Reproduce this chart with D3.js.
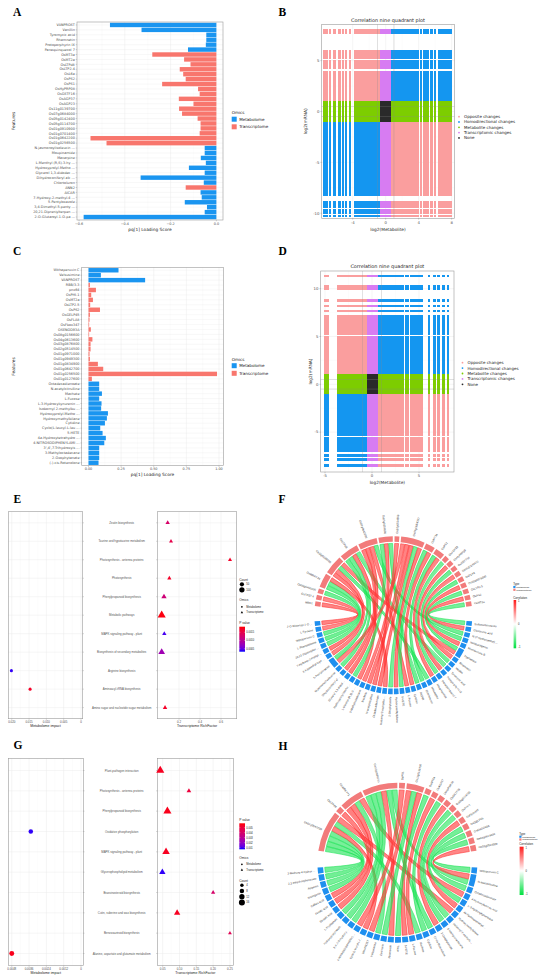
<!DOCTYPE html>
<html><head><meta charset="utf-8">
<script src="https://cdn.jsdelivr.net/npm/d3@7/dist/d3.min.js"></script>
<style>html,body{margin:0;padding:0;background:#fff;}svg{display:block;}</style>
</head><body>
<script>
// ================= DATA =================
// Panel A: OPLS loading scores
const aFeatures=["VANPROST","Vanillin","Tyromycic acid","Rhamnetin","Protoporphyrin IX","Panaquinquecol 7","OsMT3a","OsMT2a","OsLTPd8","OsLTP2.4","OsL6a","OsPS2","OsPS1","OsHyPRP08","OsGSTF16","OsAGP37","OsAGP23","Os11g0139700","Os07g0684000","Os05g0142400","Os05g0114700","Os01g0910900","Os01g0701400","Os01g0642200","Os01g0256500","N-jasmonoylisoleucin ...","Moupinamide","Macarpine","L-Menthyl (R,S)-3-hy ...","Hydroxyprolyl-Metho ...","Glycerol 1,3-didodec ...","Dihydroconiferyl alc ...","Chlortoluron","ANN2","AICAR","7-Hydroxy-2-methyl-4 ...","5-Pentyloxazole","3,4-Dimethyl-5-penty ...","20,21-Dipreniylterpen ...","2-O-Glutaroyl-1-O-pa ..."];
const aOmics=["M","M","M","M","M","M","T","T","T","T","T","T","T","T","T","T","T","T","T","T","T","T","T","T","T","M","M","M","M","M","M","M","M","T","M","M","M","M","M","M"];
const aScores=[-0.465,-0.327,-0.044,-0.044,-0.046,-0.124,-0.28,-0.141,-0.113,-0.16,-0.145,-0.134,-0.237,-0.08,-0.073,-0.164,-0.10,-0.163,-0.15,-0.082,-0.069,-0.069,-0.073,-0.55,-0.48,-0.051,-0.051,-0.068,-0.046,-0.12,-0.051,-0.331,-0.055,-0.134,-0.069,-0.064,-0.138,-0.041,-0.051,-0.58];
const aTicks=[-0.6,-0.4,-0.2,0.0];

// Panel C
const cFeatures=["Withaperuvin C","Velsusimine","VANPROST","RBB/3-3","pnx64","OsPHI-1","OsMT2a","OsLTP2.5","OsPS2","OsGELP45","OsFLA8","OsFbox347","OSENOD93A","Os08g0156600","Os04g0613600","Os03g0876800","Os02g0514500","Os01g0971000","Os01g0949300","Os01g0834900","Os01g0642700","Os01g0256500","Os01g0127600","Octadecadienoate","N-acetylcitrulline","Machete","L-Fucose","L-3-Hydroxykynurenin ...","Isobornyl 2-methylbu ...","Hydroxyprolyl-Metho ...","Hydroxymethylbilane","Cytidine","Cyclo(L-leucyl-L-leu ...","5-HETE","4a-Hydroxytetrahydro ...","4-NITROSODIPHENYLAMI ...","3',4',7-Trihydroxyis ...","3-Methyloctadecane","2-Oxophytanate","(-)-cis-Rotenolone"];
const cOmics=["M","M","M","T","T","T","T","T","T","T","T","T","T","T","T","T","T","T","T","T","T","T","T","M","M","M","M","M","M","M","M","M","M","M","M","M","M","M","M","M"];
const cScores=[0.23,0.095,0.434,0.011,0.057,0.021,0.034,0.013,0.088,0.011,0.008,0.005,0.018,0.005,0.03,0.016,0.016,0.008,0.011,0.072,0.113,0.985,0.026,0.082,0.082,0.103,0.082,0.1,0.097,0.149,0.141,0.126,0.09,0.108,0.133,0.121,0.082,0.082,0.082,0.077];
const cTicks=[0,0.25,0.5,0.75,1.0];

// Panel B: nine-quadrant (log2 fold changes)
const bMetFC=[-7.4,-7.1,-6.75,-6.2,-5.6,-5.2,-4.8,-4.35,-3.75,-3.5,-3.3,-3.1,-2.9,-2.7,-2.5,-2.3,-2.1,-1.9,-1.7,-1.5,-1.3,-1.1,-0.9,-0.7,-0.5,-0.3,-0.1,0.1,0.3,0.5,0.7,0.9,1.1,1.3,1.5,1.7,1.9,2.1,2.3,2.5,2.7,2.9,3.1,3.3,3.5,3.7,3.9,4.3,4.7,5.05,5.55,5.95,6.45,6.75,7.1,7.35,7.65,7.9];
const bGeneFC=[8.0,7.75,5.9,5.7,5.5,5.3,4.9,4.7,4.5,4.3,3.9,3.7,3.5,3.3,3.1,2.9,2.7,2.5,2.3,2.1,1.9,1.7,1.5,1.3,1.1,0.9,0.7,0.5,0.3,0.1,-0.1,-0.3,-0.5,-0.7,-0.9,-1.1,-1.3,-1.5,-1.7,-1.9,-2.1,-2.3,-2.5,-2.7,-2.9,-3.1,-3.3,-3.5,-3.7,-3.9,-4.1,-4.3,-4.5,-4.7,-4.9,-5.1,-5.3,-5.5,-5.7,-5.9,-6.1,-6.3,-6.5,-6.7,-6.9,-7.1,-7.3,-7.55,-7.75,-8.0,-8.2,-8.9,-9.1,-9.35,-9.75,-10.0,-10.3];
// Panel D
const dMetFC=[-5.0,-4.75,-3.58,-3.34,-3.05,-2.85,-2.65,-2.45,-2.25,-2.05,-1.85,-1.65,-1.45,-1.25,-1.05,-0.85,-0.65,-0.45,-0.25,-0.05,0.15,0.35,0.5,0.65,0.85,1.05,1.25,1.45,1.65,1.85,2.05,2.25,2.45,2.65,2.85,3.05,3.3,3.6,3.85,4.2,4.5,4.75,5.0,5.28,6.05,6.65,7.05,7.6,8.1];
const dGeneFC=[11.35,10.3,10.0,8.75,8.2,7.65,7.1,6.9,6.7,6.5,6.3,6.1,5.9,5.7,5.5,5.3,4.9,4.7,4.5,4.3,4.1,3.9,3.7,3.5,3.3,3.1,2.9,2.7,2.5,2.3,2.1,1.9,1.7,1.5,1.3,1.1,0.9,0.7,0.5,0.3,0.1,-0.1,-0.3,-0.5,-0.7,-0.9,-1.1,-1.3,-1.5,-1.7,-1.9,-2.1,-2.3,-2.5,-2.7,-2.9,-3.1,-3.3,-3.5,-3.7,-3.9,-4.1,-4.3,-4.5,-4.7,-4.9,-5.1,-5.3,-5.6,-5.85,-6.1,-6.4,-6.7,-7.0,-7.45,-7.85,-8.5];
const quadClasses=["Opposite changes","Homodirectional changes","Metabolite changes","Transcriptomic changes","None"];
const quadColors=["#FA9E9E","#1496F0","#7DCD00","#D77CF2","#2A2A2A"];

// Panel E: KEGG joint enrichment
const ePathways=["Zeatin biosynthesis","Taurine and hypotaurine metabolism","Photosynthesis - antenna proteins","Photosynthesis","Phenylpropanoid biosynthesis","Metabolic pathways","MAPK signaling pathway - plant","Biosynthesis of secondary metabolites","Arginine biosynthesis","Aminoacyl-tRNA biosynthesis","Amino sugar and nucleotide sugar metabolism"];
const eMetPath=["Arginine biosynthesis","Aminoacyl-tRNA biosynthesis"];
const eMetImpact=[0.0201,0.0147];
const eMetP=[0.00036,0.0017];
const eMetCount=[8,8];
const eTrPath=["Zeatin biosynthesis","Taurine and hypotaurine metabolism","Photosynthesis - antenna proteins","Photosynthesis","Phenylpropanoid biosynthesis","Metabolic pathways","MAPK signaling pathway - plant","Biosynthesis of secondary metabolites","Amino sugar and nucleotide sugar metabolism"];
const eTrRich=[0.092,0.124,0.686,0.108,0.057,0.035,0.060,0.035,0.067];
const eTrP=[0.0013,0.0015,0.0017,0.0017,0.0012,0.0018,0.0004,0.0008,0.0017];
const eTrCount=[15,5,6,10,40,140,15,85,15];
const eMetTicks=[0.02,0.015,0.01,0.005,0];
const eMetTickLabels=["0.020","0.015","0.010","0.005","0"];
const eTrTicks=[0.2,0.4,0.6];
const eCountLegend=[50,100];
const ePLegend=[0.0015,0.0010,0.0005];

// Panel G
const gPathways=["Plant-pathogen interaction","Photosynthesis - antenna proteins","Phenylpropanoid biosynthesis","Oxidative phosphorylation","MAPK signaling pathway - plant","Glycerophospholipid metabolism","Brassinosteroid biosynthesis","Cutin, suberine and wax biosynthesis","Benzoxazinoid biosynthesis","Alanine, aspartate and glutamate metabolism"];
const gMetPath=["Oxidative phosphorylation","Alanine, aspartate and glutamate metabolism"];
const gMetImpact=[0.00348,0.0048];
const gMetP=[0.0008,0.0056];
const gMetCount=[8,10];
const gTrPath=["Plant-pathogen interaction","Photosynthesis - antenna proteins","Phenylpropanoid biosynthesis","MAPK signaling pathway - plant","Glycerophospholipid metabolism","Brassinosteroid biosynthesis","Cutin, suberine and wax biosynthesis","Benzoxazinoid biosynthesis"];
const gTrRich=[0.0428,0.128,0.064,0.060,0.049,0.200,0.093,0.250];
const gTrP=[0.0055,0.0050,0.0056,0.0055,0.0008,0.0040,0.0055,0.0045];
const gTrCount=[16,4,16,13,9,3,9,2];
const gMetTicks=[0.0048,0.0036,0.0024,0.0012,0];
const gMetTickLabels=["0.0048","0.0036","0.0024","0.0012","0"];
const gTrTicks=[0.05,0.10,0.15,0.20,0.25];
const gCountLegend=[4,8,12,16];
const gPLegend=[0.005,0.004,0.003,0.002,0.001];

// Panel F: chord (genes top, metabolites bottom) links [gene, metabolite, correlation]
const fGenes=["MBS1","OsTPS2.4","Os08g0400100","OsWRKY24","Os11g0139700","OsLTPd8","Os01g0642200","Os01g0256500","Os02g0514500","Os07g0684000","OsMT3a","OsPS1","OsAGP23","OsHyPRP08","OsGSTF16","Os05g0142400","OsFLA8","Os03g0876800","OsLTP2.5","OsPS2","OsMT2a"];
const fMets=["Sulfamethoxazole","Glucuronic acid","N-(2-Hydroxyethyl) ...","Isoliquiritigenin","Momilactone B","Tryptamine","Rhamnetin","Vanillin","Tyromycic acid","Protoporphyrin IX","Panaquinquecol 7","Moupinamide","Macarpine","Chlortoluron","AICAR","Cytidine","L-Fucose","5-HETE","Hydroxymethylbilane","2-Oxophytanate","Isobornyl 2-methylbu ...","Octadecadienoate","N-acetylcitrulline","Machete","3-Methyloctadecane","L-Menthyl (R,S)-3- ...","Hydroxyprolyl-Metho ...","Glycerol 1,3-didod ...","Dihydroconiferyl al ...","N-jasmonoylisoleucine","5-Pentyloxazole","3,4-Dimethyl-5-pe ...","7-Hydroxy-2-methyl ...","20,21-Dipreniylter ...","L-Phenylalanine","Withaperuvin C","L-Tyrosine","2-O-Glutaroyl-1-O ..."];
const fLinks=[[0,37,0.9],[1,36,0.85],[2,35,-0.9],[3,34,-0.92],[3,33,-0.88],[3,20,0.9],[4,32,0.91],[4,31,0.87],[4,12,-0.9],[4,5,0.88],[5,30,-0.93],[5,29,-0.9],[5,25,0.9],[5,8,-0.86],[6,28,0.9],[6,27,0.92],[6,16,0.88],[6,2,-0.9],[7,26,-0.89],[7,22,0.9],[7,14,-0.91],[8,24,0.87],[9,23,0.9],[9,21,0.93],[9,19,-0.88],[9,18,0.9],[9,30,0.86],[10,17,-0.9],[10,15,0.89],[11,13,-0.92],[11,11,0.88],[12,10,-0.87],[13,9,0.9],[14,7,-0.9],[15,6,0.88],[16,5,-0.91],[17,4,0.9],[18,3,-0.9],[19,1,0.89],[20,0,-0.88]];

// Panel H
const hGenes=["Os01g0642200","OsLTPd8","OsWRKY71","Os07g0684000","OsPS1","Os11g0139700","OsMT2a","OsAGP37","OsHyPRP08","OsGSTF16","Os05g0114700","OsPHI-1","OsFbox347","OsGELP45","OsENOD93A","Os04g0613600","Os02g0514500"];
const hMets=["Withaperuvin C","N-acetylcitrulline","Octadecadienoate","4-Hydroxybenzoic acid","L-3-Hydroxykynurenine","4a-Hydroxytetrahyd ...","Hydroxymethylbilane","Isobornyl 2-methylb ...","3-Methyloctadecane","2-Oxophytanate","(-)-cis-Rotenolone","Cytidine","Machete","L-Fucose","5-HETE","Tricin","Rhamnetin","Coumarin","Velsusimine","VANPROST","Cyclo(L-leucyl-L-l ...","4-NITROSODIPHENYL ...","3',4',7-Trihydroxy ...","Hydroxyprolyl-Meth ...","L-Tryptophan","Sinapic acid","Ferulic acid","Caffeic acid","Naringenin","Apigenin","2,3-Dihydroxybenzoate","3-Methoxy-4-hydrox ..."];
const hLinks=[[0,31,-0.9],[0,30,-0.92],[0,29,-0.88],[0,28,-0.9],[0,20,0.9],[0,12,-0.87],[0,6,0.88],[1,27,0.9],[2,26,0.92],[2,25,0.9],[2,18,-0.88],[2,3,0.87],[3,24,-0.91],[3,23,-0.9],[3,22,-0.89],[3,16,0.9],[3,10,-0.9],[3,1,-0.88],[4,21,0.88],[5,19,0.9],[5,17,-0.9],[5,14,0.91],[6,15,-0.9],[7,13,0.89],[8,11,-0.9],[9,9,0.88],[10,8,-0.9],[11,7,-0.87],[12,5,0.9],[13,4,-0.9],[14,2,-0.89],[15,0,-0.9],[16,1,0.88]];

// ================= DRAWING =================
const W=550,H=977;
const SANS='"DejaVu Sans", sans-serif', LSANS='"Liberation Sans", Arial, sans-serif', SERIF='"Liberation Serif", "Times New Roman", serif';
const svg=d3.select("body").append("svg").attr("width",W).attr("height",H).attr("viewBox",`0 0 ${W} ${H}`);
svg.append("rect").attr("width",W).attr("height",H).attr("fill","#fff");
const defs=svg.append("defs");
const omicsFill={M:"#1A95F0",T:"#F8766D"};
const AX="#4d4d4d", GRID="#ebebeb", GRIDM="#f4f4f4", BORDER="#9a9a9a";

function txt(g,x,y,s,o={}){
  const t=g.append("text").attr("x",x).attr("y",y).text(s)
    .attr("font-size",o.size||4).attr("fill",o.fill||"#222").attr("font-family",o.family||SANS);
  if(o.anchor) t.attr("text-anchor",o.anchor);
  if(o.weight) t.attr("font-weight",o.weight);
  if(o.dy) t.attr("dy",o.dy);
  if(o.rotate!==undefined) t.attr("transform",`rotate(${o.rotate},${x},${y})`);
  return t;
}
function line(g,x1,y1,x2,y2,c,w){return g.append("line").attr("x1",x1).attr("y1",y1).attr("x2",x2).attr("y2",y2).attr("stroke",c).attr("stroke-width",w);}

// panel letters
[["A",13,15.5],["B",278.5,15.5],["C",13,255],["D",278.5,254.5],["E",13.5,503],["F",278.5,503],["G",13.5,749],["H",278.5,749.5]]
  .forEach(([l,x,y])=>txt(svg,x,y,l,{size:11.5,weight:"bold",family:SERIF,fill:"#000"}));

// ---------- bar panels (A, C) ----------
function barPanel(o){
  const g=svg.append("g");
  const x=d3.scaleLinear().domain(o.xd).range([o.x0,o.x1]);
  const y=d3.scalePoint().domain(o.features).range([o.y0,o.y1]).padding(0.6);
  const bh=y.step()*0.9;
  for(let i=0;i<o.ticks.length-1;i++){const m=(o.ticks[i]+o.ticks[i+1])/2; line(g,x(m),o.y0,x(m),o.y1,GRIDM,0.3);}
  o.ticks.forEach(v=>line(g,x(v),o.y0,x(v),o.y1,GRID,0.5));
  o.features.forEach(f=>line(g,o.x0,y(f),o.x1,y(f),GRID,0.35));
  g.selectAll("rect.bar").data(o.values).join("rect").attr("class","bar")
    .attr("x",v=>x(Math.min(0,v))).attr("width",v=>Math.abs(x(v)-x(0)))
    .attr("y",(v,i)=>y(o.features[i])-bh/2).attr("height",bh)
    .attr("fill",(v,i)=>omicsFill[o.omics[i]]);
  g.append("rect").attr("x",o.x0).attr("y",o.y0).attr("width",o.x1-o.x0).attr("height",o.y1-o.y0).attr("fill","none").attr("stroke",BORDER).attr("stroke-width",0.6);
  o.features.forEach(f=>{line(g,o.x0-1.3,y(f),o.x0,y(f),"#777",0.3); txt(g,o.x0-2.2,y(f),f,{size:3.4,anchor:"end",fill:AX,dy:"0.35em"});});
  o.ticks.forEach(v=>{line(g,x(v),o.y1,x(v),o.y1+1.3,"#777",0.3); txt(g,x(v),o.y1+4.6,o.fmt(v),{size:3.4,anchor:"middle",fill:AX});});
  txt(g,(o.x0+o.x1)/2,o.y1+10.5,"pq[1] Loading Score",{size:4.3,anchor:"middle"});
  txt(g,14.5,(o.y0+o.y1)/2,"Features",{size:4.3,anchor:"middle",rotate:-90});
  txt(g,o.lx,o.ly,"Omics",{size:4.1});
  [["M","Metabolome"],["T","Transcriptome"]].forEach(([k,l],i)=>{
    g.append("rect").attr("x",o.lx).attr("y",o.ly+2.7+i*7.6).attr("width",5).attr("height",5).attr("fill",omicsFill[k]);
    txt(g,o.lx+7.5,o.ly+5.2+i*7.6,l,{size:4.1,dy:"0.35em"});
  });
}
barPanel({features:aFeatures,values:aScores,omics:aOmics,xd:[-0.609,0.029],x0:77,x1:223,y0:22,y1:220,ticks:aTicks,fmt:d3.format(".1f"),lx:231.7,ly:114});
barPanel({features:cFeatures,values:cScores,omics:cOmics,xd:[-0.052,1.033],x0:81.7,x1:223.3,y0:267.3,y1:465.7,ticks:cTicks,fmt:d3.format(".2f"),lx:231.7,ly:360.5});

// ---------- nine-quadrant panels (B, D) ----------
function classify(m,t){
  const cm=Math.abs(m)>=0.6, ct=Math.abs(t)>=1;
  if(cm&&ct) return m*t>0?1:0;
  if(cm) return 2; if(ct) return 3; return 4;
}
function ninePanel(o){
  const g=svg.append("g");
  const x=d3.scaleLinear().domain(o.xd).range([o.x0,o.x1]);
  const y=d3.scaleLinear().domain(o.yd).range([o.y1,o.y0]);
  const minor=(t)=>{const r=[];for(let i=0;i<t.length-1;i++)r.push((t[i]+t[i+1])/2);return r;};
  minor(o.xt).forEach(v=>line(g,x(v),o.y0,x(v),o.y1,GRIDM,0.3));
  minor(o.yt).forEach(v=>line(g,o.x0,y(v),o.x1,y(v),GRIDM,0.3));
  o.xt.forEach(v=>line(g,x(v),o.y0,x(v),o.y1,GRID,0.5));
  o.yt.forEach(v=>line(g,o.x0,y(v),o.x1,y(v),GRID,0.5));
  const s=2.45, paths=quadClasses.map(()=>[]);
  o.met.forEach(m=>o.gene.forEach(t=>{
    paths[classify(m,t)].push(`M${(x(m)-s/2).toFixed(2)},${(y(t)-s/2).toFixed(2)}h${s}v${s}h${-s}z`);
  }));
  paths.forEach((p,i)=>g.append("path").attr("d",p.join("")).attr("fill",quadColors[i]).attr("shape-rendering","crispEdges"));
  [-1,1].forEach(v=>line(g,x(v),o.y0,x(v),o.y1,"#8a8a8a",0.4).attr("opacity",0.7));
  [-0.5,0.5].forEach(v=>line(g,o.x0,y(v),o.x1,y(v),"#8a8a8a",0.4).attr("opacity",0.7));
  g.append("rect").attr("x",o.x0).attr("y",o.y0).attr("width",o.x1-o.x0).attr("height",o.y1-o.y0).attr("fill","none").attr("stroke",BORDER).attr("stroke-width",0.6);
  o.xt.forEach(v=>{line(g,x(v),o.y1,x(v),o.y1+1.3,"#777",0.35); txt(g,x(v),o.y1+5.2,String(v),{size:3.8,anchor:"middle",fill:AX});});
  o.yt.forEach(v=>{line(g,o.x0-1.3,y(v),o.x0,y(v),"#777",0.35); txt(g,o.x0-2.3,y(v),String(v),{size:3.8,anchor:"end",fill:AX,dy:"0.35em"});});
  txt(g,(o.x0+o.x1)/2,o.y1+12.3,"log2(Metabolite)",{size:4.3,anchor:"middle"});
  txt(g,o.ytx,(o.y0+o.y1)/2,"log2(mRNA)",{size:4.3,anchor:"middle",rotate:-90,dy:"0.35em"});
  txt(g,(o.x0+o.x1)/2,o.y0-2.8,"Correlation nine quadrant plot",{size:4.9,anchor:"middle"});
  quadClasses.forEach((c,i)=>{
    g.append("circle").attr("cx",o.lx).attr("cy",o.ly+i*o.ld).attr("r",0.9).attr("fill",quadColors[i]);
    txt(g,o.lx+5,o.ly+i*o.ld,c,{size:4,dy:"0.35em"});
  });
}
ninePanel({met:bMetFC,gene:bGeneFC,xd:[-7.76,8.32],yd:[-10.5,8.57],x0:321.7,x1:454.3,y0:24.3,y1:218.3,xt:[-4,0,4,8],yt:[-10,-5,0,5],ytx:305.5,lx:459,ly:116.7,ld:5.3});
ninePanel({met:dMetFC,gene:dGeneFC,xd:[-5.46,8.72],yd:[-9.17,11.85],x0:320.7,x1:454,y0:271,y1:472,xt:[-5,0,5],yt:[-5,0,5,10],ytx:310,lx:462.5,ly:362.7,ld:5.4});

// ---------- enrichment panels (E, G) ----------
const pInterp=d3.interpolateLab("#0000FF","#FF0000");
function gradient(id,stops){
  const lg=defs.append("linearGradient").attr("id",id).attr("x1",0).attr("y1",0).attr("x2",0).attr("y2",1);
  stops.forEach(([o,c])=>lg.append("stop").attr("offset",o).attr("stop-color",c));
}
gradient("pgrad",d3.range(0,1.0001,0.1).map(t=>[t,pInterp(1-t)]));
function enrichPanel(o){
  const g=svg.append("g");
  const y=d3.scalePoint().domain(o.rows).range([o.y0,o.y1]).padding(0.6);
  const xl=d3.scaleLinear().domain(o.Lxd).range([o.Lx0,o.Lx1]);
  const xr=d3.scaleLinear().domain(o.Rxd).range([o.Rx0,o.Rx1]);
  const col=p=>pInterp((p-o.pd[0])/(o.pd[1]-o.pd[0]));
  [[xl,o.Lx0,o.Lx1,o.Lt,o.Ltl,"Metabolome impact"],[xr,o.Rx0,o.Rx1,o.Rt,o.Rt.map(v=>o.Rfmt(v)),"Transcriptome RichFactor"]].forEach(([x,x0,x1,ticks,labels,title])=>{
    for(let i=0;i<ticks.length-1;i++){const m=(ticks[i]+ticks[i+1])/2; line(g,x(m),o.y0,x(m),o.y1,GRIDM,0.3);}
    ticks.forEach(v=>line(g,x(v),o.y0,x(v),o.y1,GRID,0.5));
    o.rows.forEach(r=>line(g,x0,y(r),x1,y(r),GRID,0.45));
    g.append("rect").attr("x",x0).attr("y",o.y0).attr("width",x1-x0).attr("height",o.y1-o.y0).attr("fill","none").attr("stroke",BORDER).attr("stroke-width",0.6);
    ticks.forEach((v,i)=>{line(g,x(v),o.y1,x(v),o.y1+1.2,"#777",0.3); txt(g,x(v),o.y1+3.8,labels[i],{size:2.9,anchor:"middle",fill:AX,family:LSANS});});
    txt(g,(x0+x1)/2,o.y1+7.9,title,{size:3.5,anchor:"middle",family:LSANS});
  });
  o.rows.forEach(r=>{
    line(g,o.Lx1,y(r),o.Lx1+1.2,y(r),"#777",0.3);
    line(g,o.Rx0-1.2,y(r),o.Rx0,y(r),"#777",0.3);
    txt(g,121.7,y(r),r,{size:2.9,anchor:"middle",fill:"#555",dy:"0.35em",family:LSANS});
  });
  o.mPath.forEach((p,i)=>g.append("path").attr("d",d3.symbol().type(d3.symbolCircle).size(o.size(o.mCount[i]))())
    .attr("transform",`translate(${xl(o.mVal[i])},${y(p)})`).attr("fill",col(o.mP[i])));
  o.tPath.forEach((p,i)=>g.append("path").attr("d",d3.symbol().type(d3.symbolTriangle).size(o.size(o.tCount[i]))())
    .attr("transform",`translate(${xr(o.tVal[i])},${y(p)})`).attr("fill",col(o.tP[i])));
  // legends
  const L=o.legend, lx=239.3;
  const drawCount=(y0)=>{
    txt(g,lx,y0,"Count",{size:3.2,family:LSANS});
    o.countLeg.forEach((c,i)=>{
      g.append("path").attr("d",d3.symbol().type(d3.symbolCircle).size(o.size(c))()).attr("transform",`translate(${lx+2.6},${y0+3.8+i*o.countStep})`).attr("fill","#000");
      txt(g,lx+7,y0+3.8+i*o.countStep,String(c),{size:2.7,dy:"0.35em",family:LSANS});
    });
  };
  const drawOmics=(y0)=>{
    txt(g,lx,y0,"Omics",{size:3.2,family:LSANS});
    g.append("path").attr("d",d3.symbol().type(d3.symbolCircle).size(2.2)()).attr("transform",`translate(${lx+2.6},${y0+5.5})`).attr("fill","#000");
    g.append("path").attr("d",d3.symbol().type(d3.symbolTriangle).size(2.6)()).attr("transform",`translate(${lx+2.6},${y0+11.2})`).attr("fill","#000");
    txt(g,lx+7,y0+5.5,"Metabolome",{size:2.7,dy:"0.35em",family:LSANS});
    txt(g,lx+7,y0+11.2,"Transcriptome",{size:2.7,dy:"0.35em",family:LSANS});
  };
  const drawP=(y0)=>{
    txt(g,lx,y0,"P value",{size:3.2,family:LSANS});
    const by=y0+o.barOff, bh=o.barH;
    g.append("rect").attr("x",lx).attr("y",by).attr("width",5.7).attr("height",bh).attr("fill","url(#pgrad)");
    const py=d3.scaleLinear().domain([o.pd[1],o.pd[0]]).range([by,by+bh]);
    o.pLeg.forEach(v=>{line(g,lx,py(v),lx+1.1,py(v),"#fff",0.3);line(g,lx+4.6,py(v),lx+5.7,py(v),"#fff",0.3);
      txt(g,lx+7,py(v),o.pFmt(v),{size:2.6,dy:"0.35em",family:LSANS});});
  };
  L.forEach(([k,y0])=>({count:drawCount,omics:drawOmics,p:drawP})[k](y0));
}
enrichPanel({rows:ePathways,y0:511.7,y1:718.7,Lx0:8.3,Lx1:82.7,Lxd:[0.021,-0.0005],Lt:eMetTicks,Ltl:eMetTickLabels,
  Rx0:157.3,Rx1:236.7,Rxd:[-0.0067,0.7495],Rt:eTrTicks,Rfmt:d3.format(".1f"),
  mPath:eMetPath,mVal:eMetImpact,mP:eMetP,mCount:eMetCount,tPath:eTrPath,tVal:eTrRich,tP:eTrP,tCount:eTrCount,
  pd:[0.00032,0.00184],size:c=>6+c*0.16,countLeg:eCountLegend,countStep:5.5,pLeg:ePLegend,pFmt:d3.format(".4f"),barOff:3.2,barH:25,
  legend:[["count",580.5],["omics",601.3],["p",623.5]]});
enrichPanel({rows:gPathways,y0:758.3,y1:965.7,Lx0:8.3,Lx1:83.3,Lxd:[0.00504,-0.00016],Lt:gMetTicks,Ltl:gMetTickLabels,
  Rx0:157.3,Rx1:233.3,Rxd:[0.034,0.26],Rt:gTrTicks,Rfmt:d3.format(".2f"),
  mPath:gMetPath,mVal:gMetImpact,mP:gMetP,mCount:gMetCount,tPath:gTrPath,tVal:gTrRich,tP:gTrP,tCount:gTrCount,
  pd:[0.00067,0.00587],size:c=>3+c*1.6,countLeg:gCountLegend,countStep:5.7,pLeg:gPLegend,pFmt:d3.format(".3f"),barOff:2.3,barH:26,
  legend:[["p",821],["omics",858.8],["count",881.5]]});

// ---------- chord panels (F, H) ----------
const corrColor=d3.scaleLinear().domain([-1,0,1]).range(["#00E040","#FFFFFF","#FF1A1A"]);
gradient("cgrad",[[0,corrColor(1)],[0.5,corrColor(0)],[1,corrColor(-1)]]);
function chordPanel(o){
  const g=svg.append("g").attr("transform",`translate(${o.cx},${o.cy})`);
  const deg=Math.PI/180;
  const gL=o.genes.map(()=>[]), mL=o.mets.map(()=>[]);
  o.links.forEach((l,k)=>{gL[l[0]].push(k);mL[l[1]].push(k);});
  const layout=(lists,a0,a1,pad)=>{
    const total=d3.sum(lists,l=>l.length), unit=(a1-a0-pad*lists.length)/total;
    let a=a0+pad/2;
    return lists.map(l=>{const s=a,e=a+l.length*unit;a=e+pad;return {s,e,unit};});
  };
  const gA=layout(gL,o.top[0]*deg,o.top[1]*deg,o.padT*deg);
  const mA=layout(mL,o.bot[0]*deg,o.bot[1]*deg,o.padB*deg);
  const mid=a=>(a.s+a.e)/2, sub=0.35*deg;
  const slots=o.links.map(()=>({}));
  gL.forEach((ks,i)=>{ks.sort((a,b)=>mid(mA[o.links[b][1]])-mid(mA[o.links[a][1]]));
    ks.forEach((k,j)=>{const a=gA[i];slots[k].source={startAngle:a.s+j*a.unit+sub/2,endAngle:a.s+(j+1)*a.unit-sub/2};});});
  mL.forEach((ks,i)=>{ks.sort((a,b)=>mid(gA[o.links[b][0]])-mid(gA[o.links[a][0]]));
    ks.forEach((k,j)=>{const a=mA[i];slots[k].target={startAngle:a.s+j*a.unit+sub/2,endAngle:a.s+(j+1)*a.unit-sub/2};});});
  const rib=d3.ribbon().radius(o.R-7.2);
  g.selectAll("path.rib").data(o.links).join("path").attr("class","rib")
    .attr("d",(l,k)=>rib(slots[k])).attr("fill",l=>corrColor(l[2])).attr("fill-opacity",0.6)
    .attr("stroke",l=>corrColor(l[2])).attr("stroke-width",0.6).attr("stroke-opacity",0.95);
  const arc=d3.arc().innerRadius(o.R-5.6).outerRadius(o.R);
  gA.forEach(a=>g.append("path").attr("d",arc({startAngle:a.s,endAngle:a.e})).attr("fill","#F27B7B"));
  mA.forEach(a=>g.append("path").attr("d",arc({startAngle:a.s,endAngle:a.e})).attr("fill","#1E8FEF"));
  const label=(a,name)=>{
    const ang=mid(a), d=ang*180/Math.PI, r=o.R+2.6, right=Math.sin(ang)>=0;
    const x=r*Math.sin(ang), y=-r*Math.cos(ang);
    g.append("text").attr("transform",`translate(${x.toFixed(2)},${y.toFixed(2)}) rotate(${right?d-90:d+90})`)
      .attr("text-anchor",right?"start":"end").attr("dy","0.35em").attr("font-size",2.8).attr("fill","#333").attr("font-family",LSANS).text(name);
  };
  gA.forEach((a,i)=>label(a,o.genes[i]));
  mA.forEach((a,i)=>label(a,o.mets[i]));
  // legend
  const lg=svg.append("g"), lx=o.lx, ly=o.ly;
  txt(lg,lx,ly,"Type",{size:2.8,family:LSANS});
  [["Metabolome","#1E8FEF"],["Transcriptome","#F27B7B"]].forEach(([n,c],i)=>{
    lg.append("rect").attr("x",lx).attr("y",ly+0.6+i*2.8).attr("width",2.2).attr("height",2.2).attr("fill",c);
    txt(lg,lx+3,ly+1.7+i*2.8,n,{size:2.4,dy:"0.35em",family:LSANS});
  });
  txt(lg,lx,ly+o.cOff,"Correlation",{size:2.8,family:LSANS});
  lg.append("rect").attr("x",lx+0.3).attr("y",o.by0).attr("width",o.bw).attr("height",o.by1-o.by0).attr("fill","url(#cgrad)");
  const cy=d3.scaleLinear().domain([1,-1]).range([o.by0+1,o.by1-1]);
  [1,0,-1].forEach(v=>txt(lg,lx+o.bw+2.2,cy(v),String(v),{size:2.6,dy:"0.35em",family:LSANS}));
}
chordPanel({genes:fGenes,mets:fMets,links:fLinks,cx:393.3,cy:615.2,R:79,top:[-84,84],bot:[94,266],padT:1.3,padB:0.9,
  lx:513.3,ly:585.3,cOff:13.2,by0:600,by1:648.3,bw:2.6});
chordPanel({genes:hGenes,mets:hMets,links:hLinks,cx:397.4,cy:862.7,R:80,top:[-82,82],bot:[93,267],padT:1.3,padB:0.9,
  lx:519.3,ly:835,cOff:9.8,by0:846.7,by1:895,bw:4});
</script>
</body></html>
